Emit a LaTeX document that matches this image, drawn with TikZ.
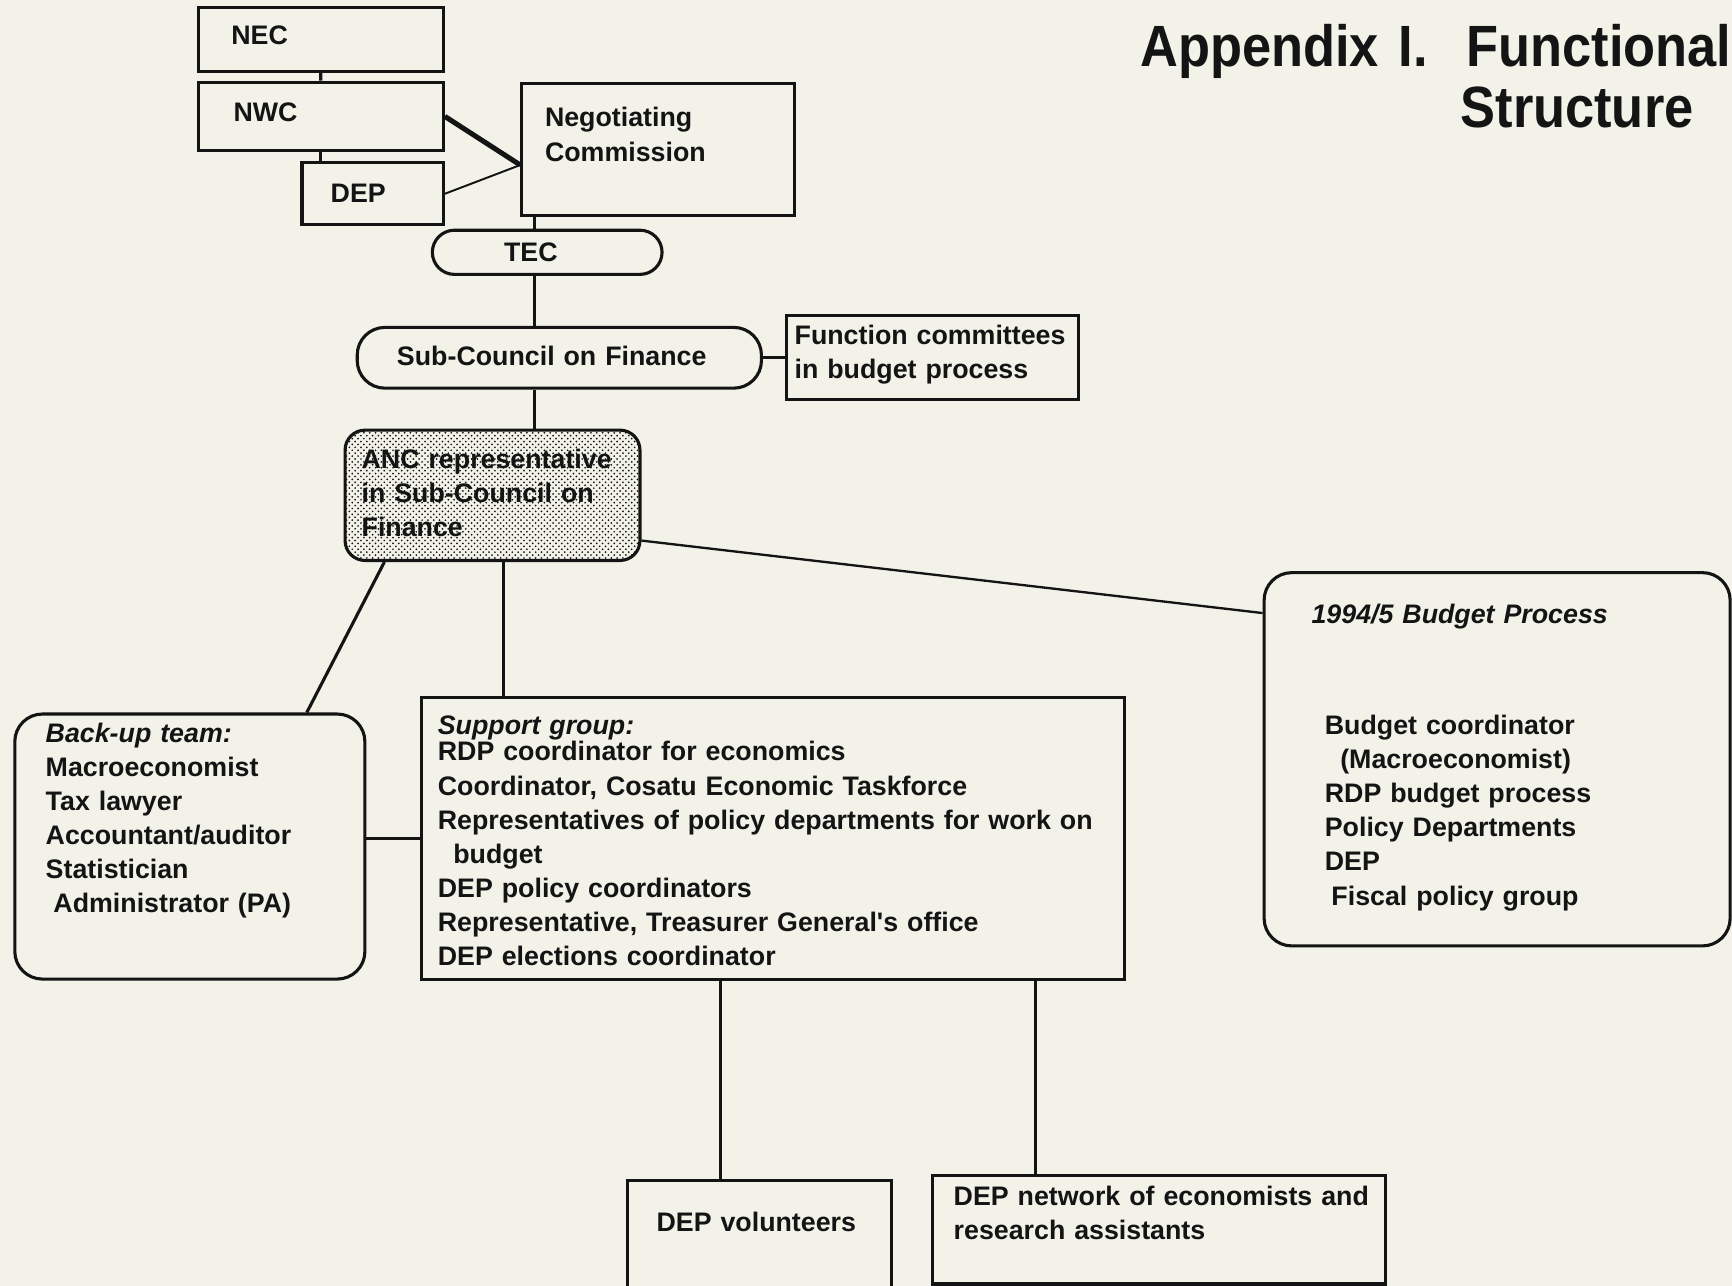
\documentclass[tikz,border=0pt]{standalone}
\usepackage{fontspec}
\usetikzlibrary{patterns}
\newfontfamily\chartfont{Liberation Sans}
\newfontfamily\titlefont[FakeStretch=0.9]{Liberation Sans}
\definecolor{paper}{RGB}{242,242,233}
\definecolor{ink}{RGB}{20,20,20}
\newcommand{\chart}{\chartfont\bfseries\fontsize{13.8pt}{17.6pt}\selectfont}

\tikzstyle{box} = [draw=ink, text=ink, line width=1.6pt, anchor=north west, inner ysep=0pt, align=left, font=\chart]
\tikzstyle{link} = [draw=ink, line width=1.6pt]

\begin{document}
\begin{tikzpicture}[x=0.02cm, y=-0.02cm]
\fill[paper] (0,0) rectangle (1568,1164);
\useasboundingbox (0,0) rectangle (1568,1164);

\node[font=\titlefont\bfseries\fontsize{30pt}{31.2pt}\selectfont, text=ink, anchor=north west, inner sep=0pt, text width=11cm, align=left, text height=0.76cm] (title) at (1032,22) {Appendix I.\ \ Functional\\\hspace*{5.8cm}Structure};

\node[box, inner xsep=0.6cm, text width=3.24cm, text height=0.67cm, text depth=0.49cm] (nec) at (178,5) {NEC};
\node[box, inner xsep=0.64cm, text width=3.16cm, text height=0.71cm, text depth=0.53cm] (nwc) at (178,73) {NWC};
\node[box, inner xsep=0.52cm, text width=1.52cm, text height=0.71cm, text depth=0.41cm] (dep) at (272,146) {DEP};
\node[box, inner xsep=0.42cm, text width=4.1cm, text height=0.79cm, text depth=1.61cm] (nc) at (471,74) {Negotiating\\Commission};
\node[box, rounded corners=0.4cm, inner xsep=1.3cm, text width=1.56cm, text height=0.57cm, text depth=0.23cm] (tec) at (390,207) {TEC};
\node[box, rounded corners=0.5cm, inner xsep=0.72cm, text width=5.88cm, text height=0.69cm, text depth=0.41cm] (sub) at (322,295) {Sub-Council on Finance};
\node[box, inner xsep=0.14cm, text width=5cm, text height=0.53cm, text depth=0.99cm] (fc) at (711,284) {Function committees\\in budget process};
\node[box, rounded corners=0.36cm, pattern=crosshatch dots, pattern color=ink, inner xsep=0.3cm, text width=4.74cm, text height=0.69cm, text depth=1.67cm] (anc) at (311,388) {ANC representative\\in Sub-Council on\\Finance};
\node[box, rounded corners=0.5cm, inner xsep=0.56cm, text width=5.22cm, text height=0.51cm, text depth=4.29cm] (backup) at (12,645) {\textit{Back-up team:}\\Macroeconomist\\Tax lawyer\\Accountant/auditor\\Statistician\\\hspace*{0.14cm}Administrator (PA)};
\node[box, inner xsep=0.3cm, text width=12.14cm, text height=0.67cm, text depth=4.43cm] (support) at (380,630) {\textit{Support group:}\\[-0.14cm]RDP coordinator for economics\\Coordinator, Cosatu Economic Taskforce\\Representatives of policy departments for work on\\\hspace*{0.28cm}budget\\DEP policy coordinators\\Representative, Treasurer General's office\\DEP elections coordinator};
\node[box, rounded corners=0.5cm, inner xsep=0.86cm, text width=6.72cm, text height=0.93cm, text depth=5.83cm] (budget) at (1143,517) {\textit{1994/5 Budget Process}\\[1.38cm]\hspace*{0.24cm}Budget coordinator\\\hspace*{0.52cm}(Macroeconomist)\\\hspace*{0.24cm}RDP budget process\\\hspace*{0.24cm}Policy Departments\\\hspace*{0.24cm}DEP\\\hspace*{0.36cm}Fiscal policy group};
\node[box, inner xsep=0.52cm, text width=3.74cm, text height=0.93cm, text depth=1.23cm] (vol) at (567,1067) {DEP volunteers};
\node[box, inner xsep=0.18cm, text width=7.84cm, text height=0.53cm, text depth=1.43cm] (net) at (843,1063) {\hspace*{0.2cm}DEP network of economists and\\\hspace*{0.2cm}research assistants};

\coordinate (spine) at (484,0);
\coordinate (ncjoin) at ([yshift=-0.28cm]nc.west);

\draw[link] (nec.south) -- (nwc.north);
\draw[link] (nwc.south) -- (nwc.south |- dep.north);
\draw[link, line width=2.6pt] (nwc.east) -- (ncjoin);
\draw[link, line width=1pt] (dep.east) -- (ncjoin);
\draw[link] (nc.south -| spine) -- (tec.north -| spine);
\draw[link] (tec.south -| spine) -- (sub.north -| spine);
\draw[link] (sub.south -| spine) -- (anc.north -| spine);
\draw[link] (sub.east) -- (sub.east -| fc.west);
\draw[link] ([xshift=0.74cm]anc.south west) -- ([xshift=-1.08cm]backup.north east);
\draw[link] ([xshift=0.2cm]anc.south) -- ([xshift=0.2cm]anc.south |- support.north);
\draw[link] (support.west -| backup.east) -- (support.west);
\draw[link, line width=1.2pt] ([yshift=-0.82cm]anc.east) -- ([yshift=-0.76cm]budget.north west);
\draw[link] ([xshift=-0.72cm]vol.north) -- ([xshift=-0.72cm]vol.north |- support.south);
\draw[link] ([xshift=-2.24cm]net.north) -- ([xshift=-2.24cm]net.north |- support.south);
\end{tikzpicture}
\end{document}
